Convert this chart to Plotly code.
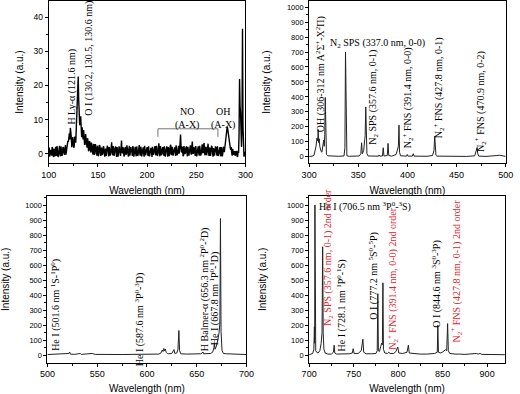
import plotly.graph_objects as go

# ---------------- data ----------------
# Top-left: VUV/UV spectrum 100-300 nm, intensity (a.u.)
# values read at whole nm (100 ... 300)
tl_intensity_whole_nm = [
    0.5, -0.8, 1.2, -0.5, 1.6, -0.9, 0.8, 2.1, -0.6, 1.0,
    -0.4, 2.4, -0.7, 1.3, 0.2, 1.8, -0.3, 2.6, 0.9, 2.2,
    3.5, 6.0, 7.6, 4.5, 2.8, 3.6, 2.4, 4.8, 8.5, 14.0,
    22.6, 12.5, 9.0, 6.5, 7.8, 4.2, 5.6, 2.9, 4.4, 1.8,
    3.6, 1.2, 3.1, 0.4, 2.5, -0.2, 2.8, 0.3, 1.9, -0.5,
    1.7, 0.1, 2.3, -0.6, 1.4, 0.2, 2.0, -0.8, 1.5, 0.4,
    1.9, -0.7, 1.2, 0.6, 3.4, -0.4, 1.6, 0.0, 2.2, -0.9,
    1.1, 0.5, 1.8, -0.6, 3.9, 0.2, 1.3, -0.5, 2.0, 0.1,
    1.4, -0.8, 2.4, 0.3, 1.0, -0.6, 1.7, 0.4, 2.1, -0.7,
    1.2, 0.0, 2.6, -0.5, 1.5, 0.3, 1.9, -0.8, 1.3, 0.5,
    2.0, -0.6, 1.1, 0.2, 1.8, -0.9, 1.4, 0.6, 2.3, -0.4,
    1.0, 0.1, 3.1, -0.7, 1.6, 0.4, 2.0, -0.5, 1.2, 0.7,
    2.2, -0.8, 1.5, 0.0, 2.7, -0.3, 1.3, 0.5, 1.9, -0.6,
    1.4, 0.2, 2.4, 0.8, 5.7, 0.4, 2.1, -0.5, 1.6, 0.3,
    2.0, -0.7, 1.2, 0.6, 2.5, -0.2, 3.6, 0.1, 1.7, -0.6,
    1.3, 0.4, 2.2, -0.5, 1.5, 0.0, 2.8, 0.3, 3.2, -0.4,
    1.8, 0.5, 3.0, -0.6, 1.4, 0.2, 2.1, -0.8, 1.1, 0.4,
    1.9, -0.5, 1.3, 0.1, 2.0, -0.7, 1.2, 0.3, 1.6, 2.5,
    4.5, 6.8, 7.2, 5.0, 2.6, 1.2, 0.4, 1.5, -0.3, 0.8,
    -0.2, 0.6, -0.9, 0.3, 21.9, 12.0, 2.0, 36.6, 0.5, -0.2,
    0.3,
]
# values read at half nm (100.5 ... 299.5)
tl_intensity_half_nm = [
    1.9, 0.6, 0.2, 2.0, -0.4, 1.5, -0.7, 0.4, 2.3, -0.9,
    1.1, 0.2, 2.2, -0.6, 2.0, 0.4, 1.4, -0.2, 1.6, 3.8,
    5.0, 4.2, 6.3, 2.0, 4.9, 1.8, 5.1, 3.3, 11.2, 19.0,
    15.8, 8.4, 11.0, 4.9, 5.5, 7.0, 2.6, 5.8, 2.2, 4.6,
    0.8, 3.8, 1.0, 3.3, 0.9, 2.7, -0.3, 2.9, 0.2, 2.4,
    -0.7, 2.6, 0.6, 1.9, -0.3, 2.2, 0.3, 1.1, -0.6, 2.4,
    0.5, 2.0, -0.5, 1.8, 0.2, 2.3, -0.6, 1.4, 0.4, 2.0,
    -0.8, 2.2, 0.3, 1.5, 0.5, 2.0, -0.7, 1.7, -0.2, 2.5,
    0.4, 1.3, -0.5, 2.0, 0.6, 2.3, -0.8, 1.5, 0.0, 2.2,
    -0.6, 1.8, 0.4, 2.1, -0.7, 1.6, 0.1, 2.4, -0.4, 1.5,
    0.3, 2.2, -0.7, 1.6, 0.5, 2.1, -0.3, 1.2, 0.2, 2.4,
    -0.6, 1.9, 0.5, 2.3, -0.4, 1.7, 0.0, 2.2, -0.8, 1.8,
    0.4, 2.0, -0.6, 2.3, 0.1, 2.1, -0.5, 1.6, 0.5, 2.5,
    -0.4, 2.0, 0.1, 2.9, 2.2, 1.8, -0.6, 2.3, 0.0, 1.9,
    0.5, 2.1, -0.5, 1.9, 0.3, 2.2, 0.2, 2.0, 0.5, 2.3,
    -0.7, 1.8, 0.2, 2.4, -0.5, 1.6, 0.4, 2.5, 0.2, 2.1,
    -0.4, 2.3, 0.3, 1.9, -0.6, 2.2, 0.4, 1.7, -0.5, 2.0,
    0.6, 2.2, -0.6, 1.8, 0.3, 2.0, -0.7, 2.1, 0.5, 3.6,
    5.6, 8.0, 5.8, 3.8, 1.9, 2.0, -0.5, 0.9, 0.6, -0.5,
    0.8, -0.6, 0.9, 6.0, 14.0, 5.0, 9.0, 8.0, -0.8, 0.6,
]
no_band_nm = [211, 272]      # NO (A-X) bracket extent
no_band_level = [5.0, 7.35]  # bracket foot / bar level

# Top-right: 300-500 nm
tr_wavelength = [
    300, 303, 305, 306, 307, 308, 308.8, 309.2, 309.7, 310.3, 310.8, 311.4,
    312.2, 313.0, 313.6, 314.2, 314.8, 315.4, 315.9, 316.4, 316.9, 317.6,
    319, 322, 330, 335.5, 336.4, 337.0, 337.6, 338.4, 341, 346, 351, 352.6,
    353.4, 354.1, 355.5, 356.6, 357.0, 357.6, 358.0, 358.8, 360, 363, 368,
    370.7, 371.2, 371.8, 374.6, 375.4, 376.1, 379.5, 380.3, 381.0, 384,
    388.5, 389.8, 390.8, 391.4, 392.0, 393, 396, 399, 399.8, 400.5, 405,
    405.9, 406.7, 412, 420, 425.5, 427.0, 427.8, 428.4, 429.0, 430, 435,
    445, 460, 468.5, 469.8, 470.9, 471.6, 472.5, 480, 488, 491, 494, 497, 500,
]
tr_intensity = [
    2, 3, 10, 40, 70, 125, 105, 182, 95, 120, 70, 45,
    35, 30, 60, 100, 111, 70, 150, 396, 60, 15,
    6, 4, 3, 5, 60, 700, 60, 6, 3, 3, 5, 20,
    93, 20, 40, 120, 140, 333, 140, 20, 5, 3, 4,
    4, 12, 4, 5, 60, 5, 8, 89, 8, 4,
    15, 40, 70, 211, 30, 6, 3, 4, 15, 4, 4,
    20, 4, 3, 3, 8, 40, 138, 50, 10, 4, 3,
    2, 2, 6, 30, 62, 20, 4, 2, 3, 8, 10, 4, 2,
]

# Bottom-left: 500-700 nm
bl_wavelength = [
    500, 505, 510, 515, 520, 521.5, 522.3, 523, 527, 532, 533, 534, 540,
    543, 545, 548, 555, 565, 575, 585, 595, 605, 612, 614, 615.5, 616.2,
    617, 617.8, 618.5, 619.3, 620.5, 622, 625, 626.5, 627.2, 628, 630,
    631.2, 632.1, 632.8, 634, 640, 648, 654, 655.5, 656.3, 657, 660, 664,
    666, 667.3, 667.8, 668.4, 669.5, 670.5, 671.5, 672.5, 673.3, 673.9,
    674.5, 675.5, 677, 680, 685, 690, 695, 700,
]
bl_intensity = [
    5, 6, 5, 7, 8, 12, 22, 8, 6, 7, 12, 6, 7,
    10, 12, 6, 5, 5, 5, 6, 5, 6, 8, 15, 35, 25,
    45, 30, 42, 20, 12, 10, 12, 30, 38, 12, 15,
    40, 165, 30, 10, 8, 8, 10, 15, 22, 10, 10, 12,
    20, 50, 80, 40, 55, 75, 110, 150, 210, 910,
    160, 30, 12, 10, 8, 7, 6, 5,
]

# Bottom-right: 700-920 nm
br_wavelength = [
    700, 702, 704, 705.3, 705.9, 706.2, 706.5, 706.8, 707.4, 708.5, 710,
    712, 713.5, 714.5, 715.2, 715.8, 716.6, 718, 721, 725, 727.3, 728.1,
    728.8, 731, 735, 740, 745, 748.5, 749.5, 750.5, 755, 758.5, 759.8,
    760.4, 761.3, 764, 770, 775, 776.5, 777.2, 777.8, 779, 780.5, 781.5,
    782.3, 782.9, 783.5, 785, 788, 789.5, 791, 795, 797.5, 799.6, 800.8,
    805, 810, 811.5, 812.5, 818, 825, 832, 838, 841, 844, 844.6, 845.3,
    848, 850, 852, 853.5, 854.6, 855.6, 856.4, 858, 864, 868, 869, 875,
    882, 884, 886, 888, 890, 892, 894, 900, 910, 920,
]
br_intensity = [
    4, 6, 12, 40, 190, 80, 1000, 80, 30, 20, 15,
    30, 80, 150, 722, 150, 40, 15, 8, 8, 20, 67,
    15, 8, 8, 10, 10, 15, 44, 12, 12, 30, 80,
    107, 20, 10, 10, 12, 30, 410, 30, 25, 60, 80,
    70, 482, 40, 15, 12, 20, 12, 12, 25, 55, 15,
    12, 20, 67, 15, 10, 8, 8, 10, 12, 20, 200, 20,
    15, 22, 32, 38, 30, 211, 30, 12, 8, 12, 8, 6,
    8, 12, 8, 12, 8, 12, 6, 5, 5, 4,
]

# assemble the top-left series on its 0.5 nm grid
tl_wavelength = []
tl_intensity = []
for i, v in enumerate(tl_intensity_whole_nm):
    tl_wavelength.append(100 + i)
    tl_intensity.append(v)
    if i < len(tl_intensity_half_nm):
        tl_wavelength.append(100 + i + 0.5)
        tl_intensity.append(tl_intensity_half_nm[i])

# ---------------- figure ----------------
W, H = 520, 394
fig = go.Figure()

fig.add_trace(go.Scatter(x=tl_wavelength, y=tl_intensity, mode="lines",
                         line=dict(color="black", width=1.4), xaxis="x", yaxis="y", showlegend=False))
fig.add_trace(go.Scatter(x=tr_wavelength, y=tr_intensity, mode="lines",
                         line=dict(color="#222", width=1), xaxis="x2", yaxis="y2", showlegend=False))
fig.add_trace(go.Scatter(x=bl_wavelength, y=bl_intensity, mode="lines",
                         line=dict(color="#222", width=1), xaxis="x3", yaxis="y3", showlegend=False))
fig.add_trace(go.Scatter(x=br_wavelength, y=br_intensity, mode="lines",
                         line=dict(color="#222", width=1), xaxis="x4", yaxis="y4", showlegend=False))

def px_x(a, b):
    return [a / W, b / W]

def px_y(top, bottom):
    return [1 - bottom / H, 1 - top / H]

SANS = "Liberation Sans, Arial"
titlefont = dict(family=SANS, size=10, color="black")

def xaxis(domain, rng, anchor, standoff=8):
    return dict(domain=domain, range=rng, anchor=anchor,
                showline=True, linecolor="black", linewidth=1, mirror=True,
                ticks="outside", ticklen=3, tickcolor="black", dtick=50, tick0=0,
                minor=dict(ticks="outside", ticklen=2, dtick=25, tickcolor="black"),
                tickfont=dict(family=SANS, size=9, color="black"),
                showgrid=False, zeroline=False,
                title=dict(text="Wavelength (nm)", font=titlefont, standoff=standoff))

def yaxis(domain, rng, anchor, dtick, fsize, standoff=6):
    return dict(domain=domain, range=rng, anchor=anchor,
                showline=True, linecolor="black", linewidth=1, mirror=True,
                ticks="outside", ticklen=3, tickcolor="black", dtick=dtick, tick0=0,
                minor=dict(ticks="outside", ticklen=2, dtick=dtick / 2, tickcolor="black"),
                tickfont=dict(family=SANS, size=fsize, color="black"),
                showgrid=False, zeroline=False,
                title=dict(text="Intensity (a.u.)", font=titlefont, standoff=standoff))

top_y = px_y(1, 163)
bot_y = px_y(196, 362.5)

fig.update_layout(
    width=W, height=H,
    margin=dict(l=0, r=0, t=0, b=0),
    paper_bgcolor="white", plot_bgcolor="white",
    xaxis=xaxis(px_x(42, 245), [100, 300], "y"),
    yaxis=yaxis(top_y, [-2.65, 44.7], "x", 10, 8.5, standoff=8),
    xaxis2=xaxis(px_x(310.7, 513.5), [300, 500], "y2"),
    yaxis2=yaxis(top_y, [-42, 1041], "x2", 100, 7.5, standoff=14),
    xaxis3=xaxis(px_x(40.7, 246), [500, 700], "y3"),
    yaxis3=yaxis(bot_y, [-48, 1060], "x3", 100, 7.5, standoff=16),
    xaxis4=xaxis(px_x(310.7, 512.7), [700, 920], "y4"),
    yaxis4=yaxis(bot_y, [-48, 1060], "x4", 100, 7.5, standoff=18),
)

SERIF = "Liberation Serif, Times New Roman"
RED = "#e0262b"
AFS = 10

def rot(text, x, y, ax, color="black"):
    return dict(text=text, x=x, y=y, xref=ax[0], yref=ax[1], textangle=-90,
                showarrow=False, xanchor="center", yanchor="middle",
                font=dict(family=SERIF, size=AFS, color=color))

def hor(text, x, y, ax, xanchor="center", color="black"):
    return dict(text=text, x=x, y=y, xref=ax[0], yref=ax[1], showarrow=False,
                xanchor=xanchor, yanchor="middle", align="center",
                font=dict(family=SERIF, size=AFS, color=color))

A1, A2, A3, A4 = ("x", "y"), ("x2", "y2"), ("x3", "y3"), ("x4", "y4")
annotations = [
    rot("H Ly-α (121.6 nm)", 123.4, 19.6, A1),
    rot("O I (130.2, 130.5, 130.6 nm)", 141.5, 28, A1),
    hor("NO<br>(A-X)", 240.8, 10.5, A1),
    hor("OH<br>(A-X)", 277, 10.5, A1),

    rot("OH (306-312 nm A<sup>2</sup>Σ<sup>+</sup>-X<sup>2</sup>Π)", 311.5, 555, A2),
    hor("N<sub>2</sub> SPS (337.0 nm, 0-0)", 370, 755, A2),
    rot("N<sub>2</sub> SPS (357.6 nm, 0-1)", 366, 394, A2),
    rot("N<sub>2</sub><sup>+</sup> FNS (391.4 nm, 0-0)", 400, 394, A2),
    rot("N<sub>2</sub><sup>+</sup> FNS (427.8 nm, 0-1)", 431.5, 461, A2),
    rot("N<sub>2</sub><sup>+</sup> FNS (470.9 nm, 0-2)", 474, 367, A2),

    rot("He I (501.6 nm <sup>1</sup>S-<sup>1</sup>P<sup>0</sup>)", 508.5, 335, A3),
    rot("He I (587.6 nm <sup>3</sup>P<sup>0</sup>-<sup>3</sup>D)", 592, 240, A3),
    rot("H Balmer-α (656.3 nm <sup>2</sup>P<sup>0</sup>-<sup>2</sup>D)", 657.8, 443, A3),
    rot("He I (667.8 nm <sup>1</sup>P<sup>0</sup>-<sup>1</sup>D)", 668.1, 378, A3),

    hor("He I (706.5 nm <sup>3</sup>P<sup>0</sup>-<sup>3</sup>S)", 709, 993, A4, xanchor="left"),
    rot("N<sub>2</sub> SPS (357.6 nm, 0-1) 2nd order", 721.5, 650, A4, RED),
    rot("He I (728.1 nm <sup>1</sup>P<sup>0</sup>-<sup>1</sup>S)", 736, 333, A4),
    rot("O I (777.2 nm <sup>5</sup>S<sup>0</sup>-<sup>5</sup>P)", 771.3, 527, A4),
    rot("N<sub>2</sub><sup>+</sup> FNS (391.4 nm, 0-0) 2nd order", 793.5, 511, A4, RED),
    rot("O I (844.6 nm <sup>3</sup>S<sup>0</sup>-<sup>3</sup>P)", 843, 472, A4),
    rot("N<sub>2</sub><sup>+</sup> FNS (427.8 nm, 0-1) 2nd order", 865.5, 561, A4, RED),
]
fig.update_layout(annotations=annotations)

# NO (A-X) bracket
bracket = dict(color="#777", width=1)
fig.add_shape(type="line", xref="x", yref="y", x0=no_band_nm[0], x1=no_band_nm[1],
              y0=no_band_level[1], y1=no_band_level[1], line=bracket)
for xb in no_band_nm:
    fig.add_shape(type="line", xref="x", yref="y", x0=xb, x1=xb,
                  y0=no_band_level[0], y1=no_band_level[1], line=bracket)

fig.write_html("out.html", config={"displayModeBar": False},
               post_script="document.body.style.margin='0px';")
